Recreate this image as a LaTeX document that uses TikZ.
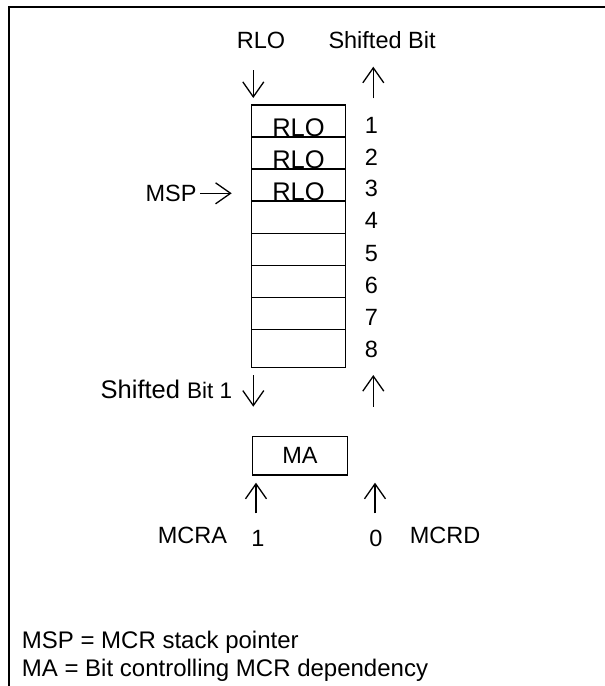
\documentclass[tikz,border=0pt]{standalone}
\usepackage{fontspec}
\setmainfont{Liberation Sans}
\usetikzlibrary{arrows.meta}
\begin{document}
\begin{tikzpicture}[x=1pt,y=-1pt,
  txt/.style={font=\fontsize{23.5}{28}\selectfont, inner sep=0pt},
  bigtxt/.style={font=\fontsize{25.5}{28}\selectfont, inner sep=0pt},
  legtxt/.style={font=\fontsize{24}{28}\selectfont, inner sep=0pt},
  cell/.style={draw, line width=1.3pt, minimum width=94pt, inner sep=0pt},
  arr/.style={line width=1.3pt, -{Straight Barb[length=15pt,width=21pt]}},
  frameline/.style={line width=1.6pt}]
\useasboundingbox (0,0) rectangle (605,686);
% frame
\coordinate (f1) at (8.7,690);
\coordinate (f2) at (8.7,6.7);
\coordinate (f3) at (610,6.7);
\draw[frameline] (f1) -- (f2) -- (f3);
% top labels
\node[txt, anchor=base] (rloT) at (261,48.3) {RLO};
\node[txt, anchor=base west] (shT) at (328.3,48.3) {Shifted Bit};
\coordinate (a1s) at (253.3,70);   \coordinate (a1e) at (253.3,98);
\coordinate (a2s) at (373.3,98.3); \coordinate (a2e) at (373.3,66.7);
\draw[arr] (a1s) -- (a1e);
\draw[arr] (a2s) -- (a2e);
% stack
\node[cell, minimum height=32pt] (r1) at (298.7,121.0) {};
\node[cell, minimum height=32pt] (r2) at (298.7,153.0) {};
\node[cell, minimum height=32pt] (r3) at (298.7,185.1) {};
\node[cell, minimum height=32pt] (r4) at (298.7,217.2) {};
\node[cell, minimum height=32pt] (r5) at (298.7,249.2) {};
\node[cell, minimum height=32pt] (r6) at (298.7,281.3) {};
\node[cell, minimum height=32pt] (r7) at (298.7,313.3) {};
\node[cell, minimum height=37.9pt] (r8) at (298.7,348.35) {};
\node[bigtxt, anchor=base] (l1) at (298.5,136.6) {RLO};
\node[bigtxt, anchor=base] (l2) at (298.5,168.7) {RLO};
\node[bigtxt, anchor=base] (l3) at (298.5,200.8) {RLO};
\foreach \i/\yy in {1/133.3,2/165,3/196.8,4/228.5,5/261,6/293,7/325,8/357.5}{
  \node[txt, anchor=base] (n\i) at (371.5,\yy) {\i};
}
% MSP
\node[txt, anchor=base east] (msp) at (196.7,201.7) {MSP};
\coordinate (m1) at (200,193.3); \coordinate (m2) at (231.7,193.3);
\draw[arr] (m1) -- (m2);
% shifted bit 1
\node[inner sep=0pt, anchor=base west] (sb1) at (100.5,398)
  {\fontsize{25.5}{28}\selectfont Shifted \fontsize{22.5}{28}\selectfont Bit 1};
\coordinate (a3s) at (253.3,375);   \coordinate (a3e) at (253.3,406.7);
\coordinate (a4s) at (373.3,406.7); \coordinate (a4e) at (373.3,375);
\draw[arr] (a3s) -- (a3e);
\draw[arr] (a4s) -- (a4e);
% MA box
\node[cell, txt, draw, line width=1.3pt, minimum width=94.6pt, minimum height=38.3pt] (ma) at (300,455.85) {MA};
\coordinate (a5s) at (256,513.3); \coordinate (a5e) at (256,482.7);
\coordinate (a6s) at (375,513.3); \coordinate (a6e) at (375,482.7);
\draw[arr] (a5s) -- (a5e);
\draw[arr] (a6s) -- (a6e);
\node[txt, anchor=base] (mcra) at (192.5,543.3) {MCRA};
\node[txt, anchor=base] (one) at (258,546) {1};
\node[txt, anchor=base] (zero) at (375.8,546) {0};
\node[txt, anchor=base] (mcrd) at (445,543.3) {MCRD};
% legend
\node[legtxt, anchor=base west] (leg1) at (21.7,648.3) {MSP = MCR stack pointer};
\node[legtxt, anchor=base west] (leg2) at (21.7,676.7) {MA = Bit controlling MCR dependency};
\end{tikzpicture}
\end{document}
